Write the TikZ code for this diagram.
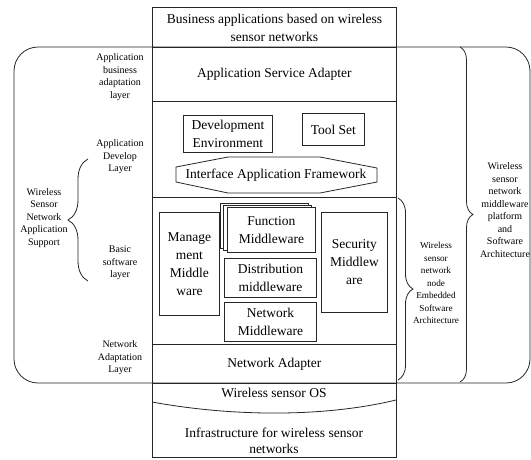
\documentclass[tikz,border=0pt]{standalone}
\usepackage{fontspec}
\setmainfont{Liberation Serif}
\usetikzlibrary{decorations.pathreplacing}
\newcommand\mybig{\fontsize{13.5}{18}\selectfont}
\newcommand\mysmall{\fontsize{10}{12.5}\selectfont}
\newcommand\mytiny{\fontsize{9.2}{12.5}\selectfont}
\begin{document}
\begin{tikzpicture}[x=1pt,y=-1pt,
  ln/.style={line width=0.8pt, draw=black!85},
  region/.style={ln, inner sep=0pt, anchor=north west, align=center, font=\mybig},
  boxx/.style={ln, fill=white, inner sep=0pt, anchor=north west, align=center, font=\mybig},
  txt/.style={inner sep=0pt, align=center, font=\mybig},
  lbl/.style={inner sep=0pt, align=center, font=\mysmall},
  nlbl/.style={inner sep=0pt, align=center, font=\mytiny},
  brc/.style={ln, decorate, decoration={brace, amplitude=#1}}
]
\useasboundingbox (0,0) rectangle (531,459);

% outer rounded outline
\draw[ln, rounded corners=24pt] (14,47) rectangle (530,383);

% main column
\node[region, minimum width=244pt, minimum height=40pt] (top) at (152,7) {Business applications based on wireless\\sensor networks};
\node[region, minimum width=244pt, minimum height=54pt] (asa) at (152,47) {Application Service Adapter};
\node[region, minimum width=244pt, minimum height=96pt] (dev) at (152,101) {};
\node[region, minimum width=244pt, minimum height=147pt] (mid) at (152,197) {};
\node[region, minimum width=244pt, minimum height=39pt] (na) at (152,344) {Network Adapter};
\node[region, minimum width=244pt, minimum height=74pt] (base) at (152,383) {};

% development area
\node[boxx, minimum width=89pt, minimum height=37pt] (deve) at (183,115) {Development\\Environment};
\node[boxx, minimum width=62pt, minimum height=32pt] (tool) at (302,113) {Tool Set};
\draw[ln] (176,167) -- (228,157) -- (320,157) -- (377,168) -- (377,182) -- (320,193) -- (228,193) -- (176,182) -- cycle;
\node[txt] (iaf) at (276,175) {Interface Application Framework};

% middleware area
\node[boxx, minimum width=60pt, minimum height=103pt] (mgmt) at (159,212) {Manage\\ment\\Middle\\ware};
\draw[ln, fill=white] (220,203) rectangle (308,248);
\draw[ln, fill=white] (223.5,205) rectangle (311.5,250);
\node[boxx, minimum width=88pt, minimum height=45pt] (func) at (227,207) {Function\\Middleware};
\node[boxx, minimum width=92pt, minimum height=39pt] (dist) at (224,258) {Distribution\\middleware};
\node[boxx, minimum width=92pt, minimum height=39pt] (netm) at (224,302) {Network\\Middleware};
\node[boxx, minimum width=66pt, minimum height=100pt] (sec) at (321,212) {Security\\Middlew\\are};

% base area
\node[txt] (os) at (274,393) {Wireless sensor OS};
\draw[ln] (152,402) .. controls (240,418) and (330,416) .. (396,400);
\node[txt] (infra) at (274,441) {Infrastructure for wireless sensor\\[-2pt]networks};

% left labels
\node[lbl] (l1) at (120,77) {Application\\business\\adaptation\\layer};
\node[lbl] (l2) at (120,157) {Application\\Develop\\Layer};
\node[lbl] (l3) at (120,263) {Basic\\software\\layer};
\node[lbl] (l4) at (120,358) {Network\\Adaptation\\Layer};
\node[lbl] (l5) at (44,218) {Wireless\\Sensor\\Network\\Application\\Support};
\coordinate (lb1) at (88,281);
\coordinate (lb2) at (88,159);
\draw[brc=20pt] (lb1) -- (lb2);

% right labels
\coordinate (rb1) at (398,198);
\coordinate (rb2) at (398,380);
\draw[brc=15pt] (rb1) -- (rb2);
\node[nlbl] (r1) at (436,283) {Wireless\\sensor\\network\\node\\Embedded\\Software\\Architecture};
\coordinate (bb1) at (460,47);
\coordinate (bb2) at (460,382);
\draw[brc=13pt] (bb1) -- (bb2);
\node[lbl] (r2) at (505,210) {Wireless\\sensor\\network\\middleware\\platform\\and\\Software\\Architecture};
\end{tikzpicture}
\end{document}
